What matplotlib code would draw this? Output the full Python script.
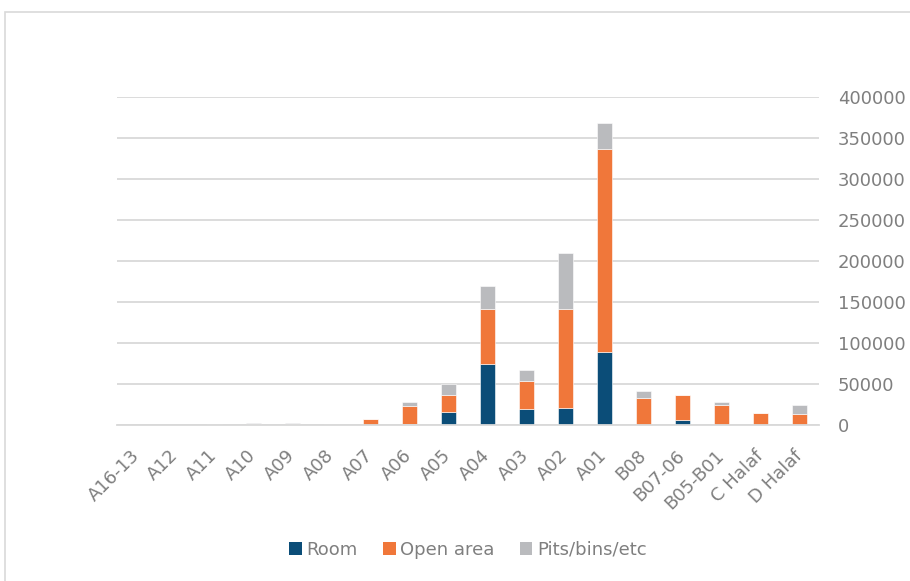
import matplotlib
matplotlib.use("Agg")
import matplotlib.pyplot as plt
from matplotlib.patches import Patch, Rectangle
import numpy as np

# data
categories = ['A16-13', 'A12', 'A11', 'A10', 'A09', 'A08', 'A07', 'A06', 'A05',
              'A04', 'A03', 'A02', 'A01', 'B08', 'B07-06', 'B05-B01', 'C Halaf', 'D Halaf']
room = [0, 0, 0, 0, 0, 0, 0, 1500, 16000, 74500, 20000, 21000, 89000,
        0, 6500, 0, 0, 0]
open_area = [200, 100, 300, 1200, 1800, 200, 7500, 22000, 21000, 66500, 34000,
             121000, 247500, 33500, 29500, 25000, 14300, 13400]
pits = [300, 200, 1400, 1700, 1000, 1200, 0, 5000, 12500, 29000, 12800,
        67500, 32000, 7700, 500, 3300, 300, 11000]
series_names = ['Room', 'Open area', 'Pits/bins/etc']
y_ticks = [0, 50000, 100000, 150000, 200000, 250000, 300000, 350000, 400000]

colors = ['#0B4D78', '#F0773A', '#BABBBE']
text_col = '#7F7F7F'
grid_col = '#D9D9D9'

plt.rcParams['font.family'] = ['DejaVu Sans']
plt.rcParams['font.size'] = 13

fig = plt.figure(figsize=(9.1, 5.81), dpi=100)
W, H = 910, 581
ax = fig.add_axes([117 / W, 1 - 425 / H, 702 / W, 328 / H])

# chart area border
fig.patches.append(Rectangle((5 / W, -0.1), 1.2, 1 - 12 / H + 0.1,
                             transform=fig.transFigure, fill=False,
                             edgecolor=grid_col, linewidth=1.2))

x = np.arange(len(categories))
room_a = np.array(room)
open_a = np.array(open_area)
pits_a = np.array(pits)
w = 0.4
ax.bar(x, room_a, w, color=colors[0], edgecolor='white', linewidth=0.4, zorder=3)
ax.bar(x, open_a, w, bottom=room_a, color=colors[1], edgecolor='white', linewidth=0.4, zorder=3)
ax.bar(x, pits_a, w, bottom=room_a + open_a, color=colors[2], edgecolor='white', linewidth=0.4, zorder=3)

ax.set_xlim(-0.5, len(categories) - 0.5)
ax.set_ylim(0, 400000)
ax.set_yticks(y_ticks)
ax.set_yticklabels([str(v) for v in y_ticks])
ax.yaxis.tick_right()
ax.tick_params(axis='y', length=0, pad=13.5, colors=text_col, labelsize=13)
for lab in ax.get_yticklabels():
    lab.set_horizontalalignment('left')

ax.set_xticks(x)
ax.set_xticklabels(categories)
ax.tick_params(axis='x', length=0, pad=20, colors=text_col, labelsize=13)
plt.setp(ax.get_xticklabels(), rotation=45, ha='right', va='center',
         rotation_mode='anchor')

ax.grid(axis='y', color=grid_col, linewidth=1.3, zorder=0)
for s in ['top', 'right', 'left']:
    ax.spines[s].set_visible(False)
ax.spines['bottom'].set_color(grid_col)
ax.spines['bottom'].set_linewidth(1.3)
ax.spines['bottom'].set_zorder(4)

handles = [Patch(facecolor=c, edgecolor='none') for c in colors]
fig.legend(handles, series_names, loc='center', bbox_to_anchor=(468 / W, 1 - 550 / H),
           ncol=3, frameon=False, handlelength=0.7, handleheight=0.7,
           handletextpad=0.25, columnspacing=1.4, labelcolor=text_col, fontsize=13)

fig.savefig('out.png', dpi=100)
